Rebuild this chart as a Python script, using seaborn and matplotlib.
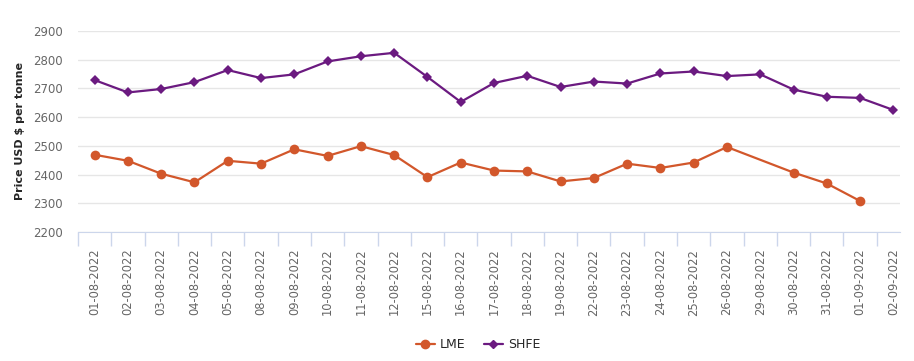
import numpy as np
import pandas as pd
import matplotlib
matplotlib.use("Agg")
import matplotlib.pyplot as plt
import seaborn as sns

# data
dates = ["01-08-2022", "02-08-2022", "03-08-2022", "04-08-2022", "05-08-2022",
         "08-08-2022", "09-08-2022", "10-08-2022", "11-08-2022", "12-08-2022",
         "15-08-2022", "16-08-2022", "17-08-2022", "18-08-2022", "19-08-2022",
         "22-08-2022", "23-08-2022", "24-08-2022", "25-08-2022", "26-08-2022",
         "29-08-2022", "30-08-2022", "31-08-2022", "01-09-2022", "02-09-2022"]
lme = [2469, 2448, 2403, 2373, 2448, 2438, 2488, 2465, 2499, 2468,
       2391, 2442, 2414, 2411, 2376, 2388, 2438, 2423, 2442, 2496,
       np.nan, 2407, 2369, 2308, np.nan]
shfe = [2729, 2686, 2698, 2722, 2764, 2736, 2749, 2794, 2812, 2824,
        2740, 2653, 2719, 2744, 2705, 2724, 2717, 2752, 2759, 2743,
        2749, 2696, 2671, 2667, 2625]
yticks = [2200, 2300, 2400, 2500, 2600, 2700, 2800, 2900]

df = pd.DataFrame({"pos": range(len(dates)), "LME": lme, "SHFE": shfe})
long = df.melt(id_vars="pos", var_name="Exchange", value_name="Price").dropna()

sns.set_style("white")
plt.rcParams["font.family"] = ["DejaVu Sans"]

fig = plt.figure(figsize=(9.14, 3.61), dpi=100)
ax = fig.add_axes([78 / 914, (361 - 232) / 361, (900 - 78) / 914, (232 - 31) / 361])

colors = {"LME": "#d2572b", "SHFE": "#6b1a80"}
sns.lineplot(data=long, x="pos", y="Price", hue="Exchange", style="Exchange",
             markers={"LME": "o", "SHFE": "D"}, dashes=False, palette=colors,
             linewidth=1.6, markeredgewidth=0, ax=ax, legend=False)
for line, ms in zip(ax.lines, [7, 5.5]):
    line.set_markersize(ms)

ax.set_xlim(-0.5, 24.2)
ax.set_ylim(2200, 2900)
ax.set_yticks(yticks)
ax.set_yticklabels([str(v) for v in yticks], color="#666666", fontsize=8.5)
ax.yaxis.grid(True, color="#e6e6e6", linewidth=1)
ax.tick_params(axis="y", length=0, pad=11)

# category ticks between labels, labels centred on points
ax.set_xticks(np.arange(len(dates)))
ax.set_xticklabels(dates, rotation=90, color="#666666", fontsize=8.3)
ax.set_xticks(np.arange(len(dates)) - 0.5, minor=True)
ax.tick_params(axis="x", which="major", length=0, pad=12)
ax.tick_params(axis="x", which="minor", bottom=True, direction="out",
               length=10, color="#ccd6eb", width=1)

for s in ["top", "right", "left"]:
    ax.spines[s].set_visible(False)
ax.spines["bottom"].set_color("#ccd6eb")
ax.set_xlabel("")
ax.set_ylabel("Price USD $ per tonne", fontsize=8, fontweight="bold", labelpad=6)

handles = [plt.Line2D([], [], color=colors["LME"], marker="o", markersize=6, lw=1.6),
           plt.Line2D([], [], color=colors["SHFE"], marker="D", markersize=4.5, lw=1.6)]
fig.legend(handles, ["LME", "SHFE"], loc="center", bbox_to_anchor=(478 / 914, 1 - 345 / 361),
           ncol=2, frameon=False, fontsize=9, handlelength=1.5, columnspacing=1.5,
           handletextpad=0.4)

fig.savefig("out.png", dpi=100)
